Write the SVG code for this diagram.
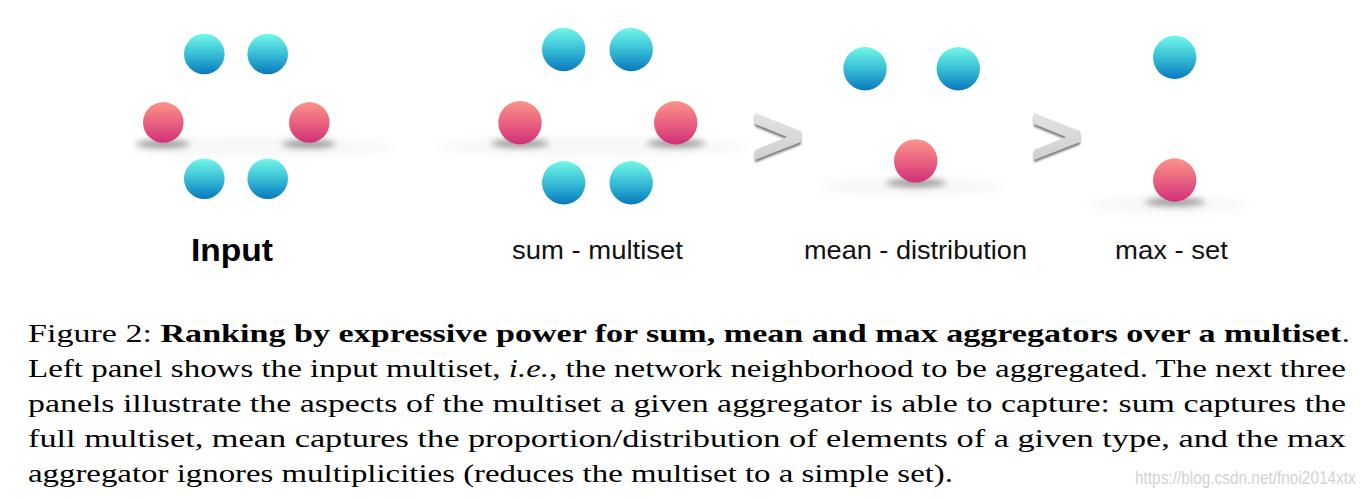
<svg xmlns="http://www.w3.org/2000/svg" width="1371" height="499" viewBox="0 0 1371 499">
<defs>
<linearGradient id="gBlue" x1="0" y1="0" x2="0" y2="1">
<stop offset="0" stop-color="#72f7e8"/>
<stop offset="0.5" stop-color="#38bfd6"/>
<stop offset="1" stop-color="#0878bd"/>
</linearGradient>
<linearGradient id="gRed" x1="0" y1="0" x2="0" y2="1">
<stop offset="0" stop-color="#fb948a"/>
<stop offset="0.5" stop-color="#e9637f"/>
<stop offset="1" stop-color="#d22f7a"/>
</linearGradient>
<linearGradient id="gChev" x1="0" y1="0" x2="0" y2="1">
<stop offset="0" stop-color="#e2e2e2"/>
<stop offset="1" stop-color="#d0d0d0"/>
</linearGradient>
<filter id="fShadow" x="-50%" y="-200%" width="200%" height="500%">
<feGaussianBlur stdDeviation="3"/>
</filter>
<filter id="fFloor" x="-20%" y="-200%" width="140%" height="500%">
<feGaussianBlur stdDeviation="6"/>
</filter>
<filter id="fChev" x="-30%" y="-30%" width="160%" height="160%">
<feGaussianBlur stdDeviation="1.2"/>
</filter>
</defs>
<style>
.blue{fill:url(#gBlue)}
.red{fill:url(#gRed)}
.floor{fill:#000;opacity:0.035;filter:url(#fFloor)}
.shadow{fill:#000;opacity:0.38;filter:url(#fShadow)}
.label{font-family:"Liberation Sans",Arial,Helvetica,sans-serif;font-size:26px;fill:#111}
.labelb{font-family:"Liberation Sans",Arial,Helvetica,sans-serif;font-size:32px;font-weight:bold;fill:#000}
.cap{font-family:"Liberation Serif","Times New Roman",serif;font-size:26px;fill:#000}
.wm{font-family:"Liberation Sans",Arial,Helvetica,sans-serif;font-size:15.4px;fill:#d2d2d2}
.chev{fill:url(#gChev)}
.chevsh{fill:#7a7a7a;filter:url(#fChev)}
</style>
<rect width="1371" height="499" fill="#ffffff"/>

<g id="panel-input">
<ellipse class="floor" cx="262" cy="147" rx="135" ry="9"/>
<ellipse class="shadow" cx="163" cy="144" rx="27" ry="4"/>
<ellipse class="shadow" cx="309" cy="144" rx="27" ry="4"/>
<circle class="blue" cx="204.3" cy="54" r="20.3"/>
<circle class="blue" cx="267.7" cy="54" r="20.3"/>
<circle class="red" cx="163.3" cy="122.4" r="20.3"/>
<circle class="red" cx="309.3" cy="122.4" r="20.3"/>
<circle class="blue" cx="204.3" cy="178.7" r="20.3"/>
<circle class="blue" cx="267.7" cy="178.7" r="20.3"/>
<text class="labelb" x="191" y="261" textLength="82" lengthAdjust="spacingAndGlyphs">Input</text>
</g>

<g id="panel-sum">
<ellipse class="floor" cx="592" cy="146" rx="160" ry="9"/>
<ellipse class="shadow" cx="520" cy="143.5" rx="29" ry="4"/>
<ellipse class="shadow" cx="676" cy="143.5" rx="29" ry="4"/>
<circle class="blue" cx="563.7" cy="49.5" r="21.7"/>
<circle class="blue" cx="631.2" cy="49.5" r="21.7"/>
<circle class="red" cx="520" cy="122.7" r="21.7"/>
<circle class="red" cx="675.7" cy="122.7" r="21.7"/>
<circle class="blue" cx="563.7" cy="182.7" r="21.7"/>
<circle class="blue" cx="631.2" cy="182.7" r="21.7"/>
<text class="label" x="512" y="258.5" textLength="171" lengthAdjust="spacingAndGlyphs">sum - multiset</text>
</g>

<g id="gt-1">
<polygon class="chevsh" points="755,115.5 801,133.5 801,144.5 755,162.5 755,152.5 787,139.5 755,126.5"/>
<polygon class="chev" points="755,113 801,131 801,142 755,160 755,150 787,137 755,124"/>
</g>

<g id="panel-mean">
<ellipse class="floor" cx="910" cy="186" rx="95" ry="8"/>
<ellipse class="shadow" cx="916" cy="183" rx="30" ry="4"/>
<circle class="blue" cx="865" cy="68.7" r="21.7"/>
<circle class="blue" cx="958.3" cy="68.7" r="21.7"/>
<circle class="red" cx="915.7" cy="160.9" r="21.7"/>
<text class="label" x="804" y="258.5" textLength="223" lengthAdjust="spacingAndGlyphs">mean - distribution</text>
</g>

<g id="gt-2">
<polygon class="chevsh" points="1034,115.5 1080,133.5 1080,144.5 1034,162.5 1034,152.5 1066,139.5 1034,126.5"/>
<polygon class="chev" points="1034,113 1080,131 1080,142 1034,160 1034,150 1066,137 1034,124"/>
</g>

<g id="panel-max">
<ellipse class="floor" cx="1168" cy="205" rx="82" ry="8"/>
<ellipse class="shadow" cx="1175" cy="202" rx="30" ry="4"/>
<circle class="blue" cx="1174.7" cy="57.3" r="21.7"/>
<circle class="red" cx="1174.7" cy="180" r="21.7"/>
<text class="label" x="1115" y="258.5" textLength="113" lengthAdjust="spacingAndGlyphs">max - set</text>
</g>

<g id="caption">
<text class="cap" x="28" y="342" textLength="1322" lengthAdjust="spacingAndGlyphs">Figure 2:  <tspan font-weight="bold">Ranking by expressive power for sum, mean and max aggregators over a multiset</tspan>.</text>
<text class="cap" x="28" y="377" textLength="1318" lengthAdjust="spacingAndGlyphs">Left panel shows the input multiset, <tspan font-style="italic">i.e.</tspan>, the network neighborhood to be aggregated. The next three</text>
<text class="cap" x="28" y="412" textLength="1318" lengthAdjust="spacingAndGlyphs">panels illustrate the aspects of the multiset a given aggregator is able to capture: sum captures the</text>
<text class="cap" x="28" y="447" textLength="1318" lengthAdjust="spacingAndGlyphs">full multiset, mean captures the proportion/distribution of elements of a given type, and the max</text>
<text class="cap" x="28" y="482" textLength="925" lengthAdjust="spacingAndGlyphs">aggregator ignores multiplicities (reduces the multiset to a simple set).</text>
</g>

<text id="watermark" class="wm" transform="translate(1135,484) scale(1,1.2)" x="0" y="0">https://blog.csdn.net/fnoi2014xtx</text>
</svg>
